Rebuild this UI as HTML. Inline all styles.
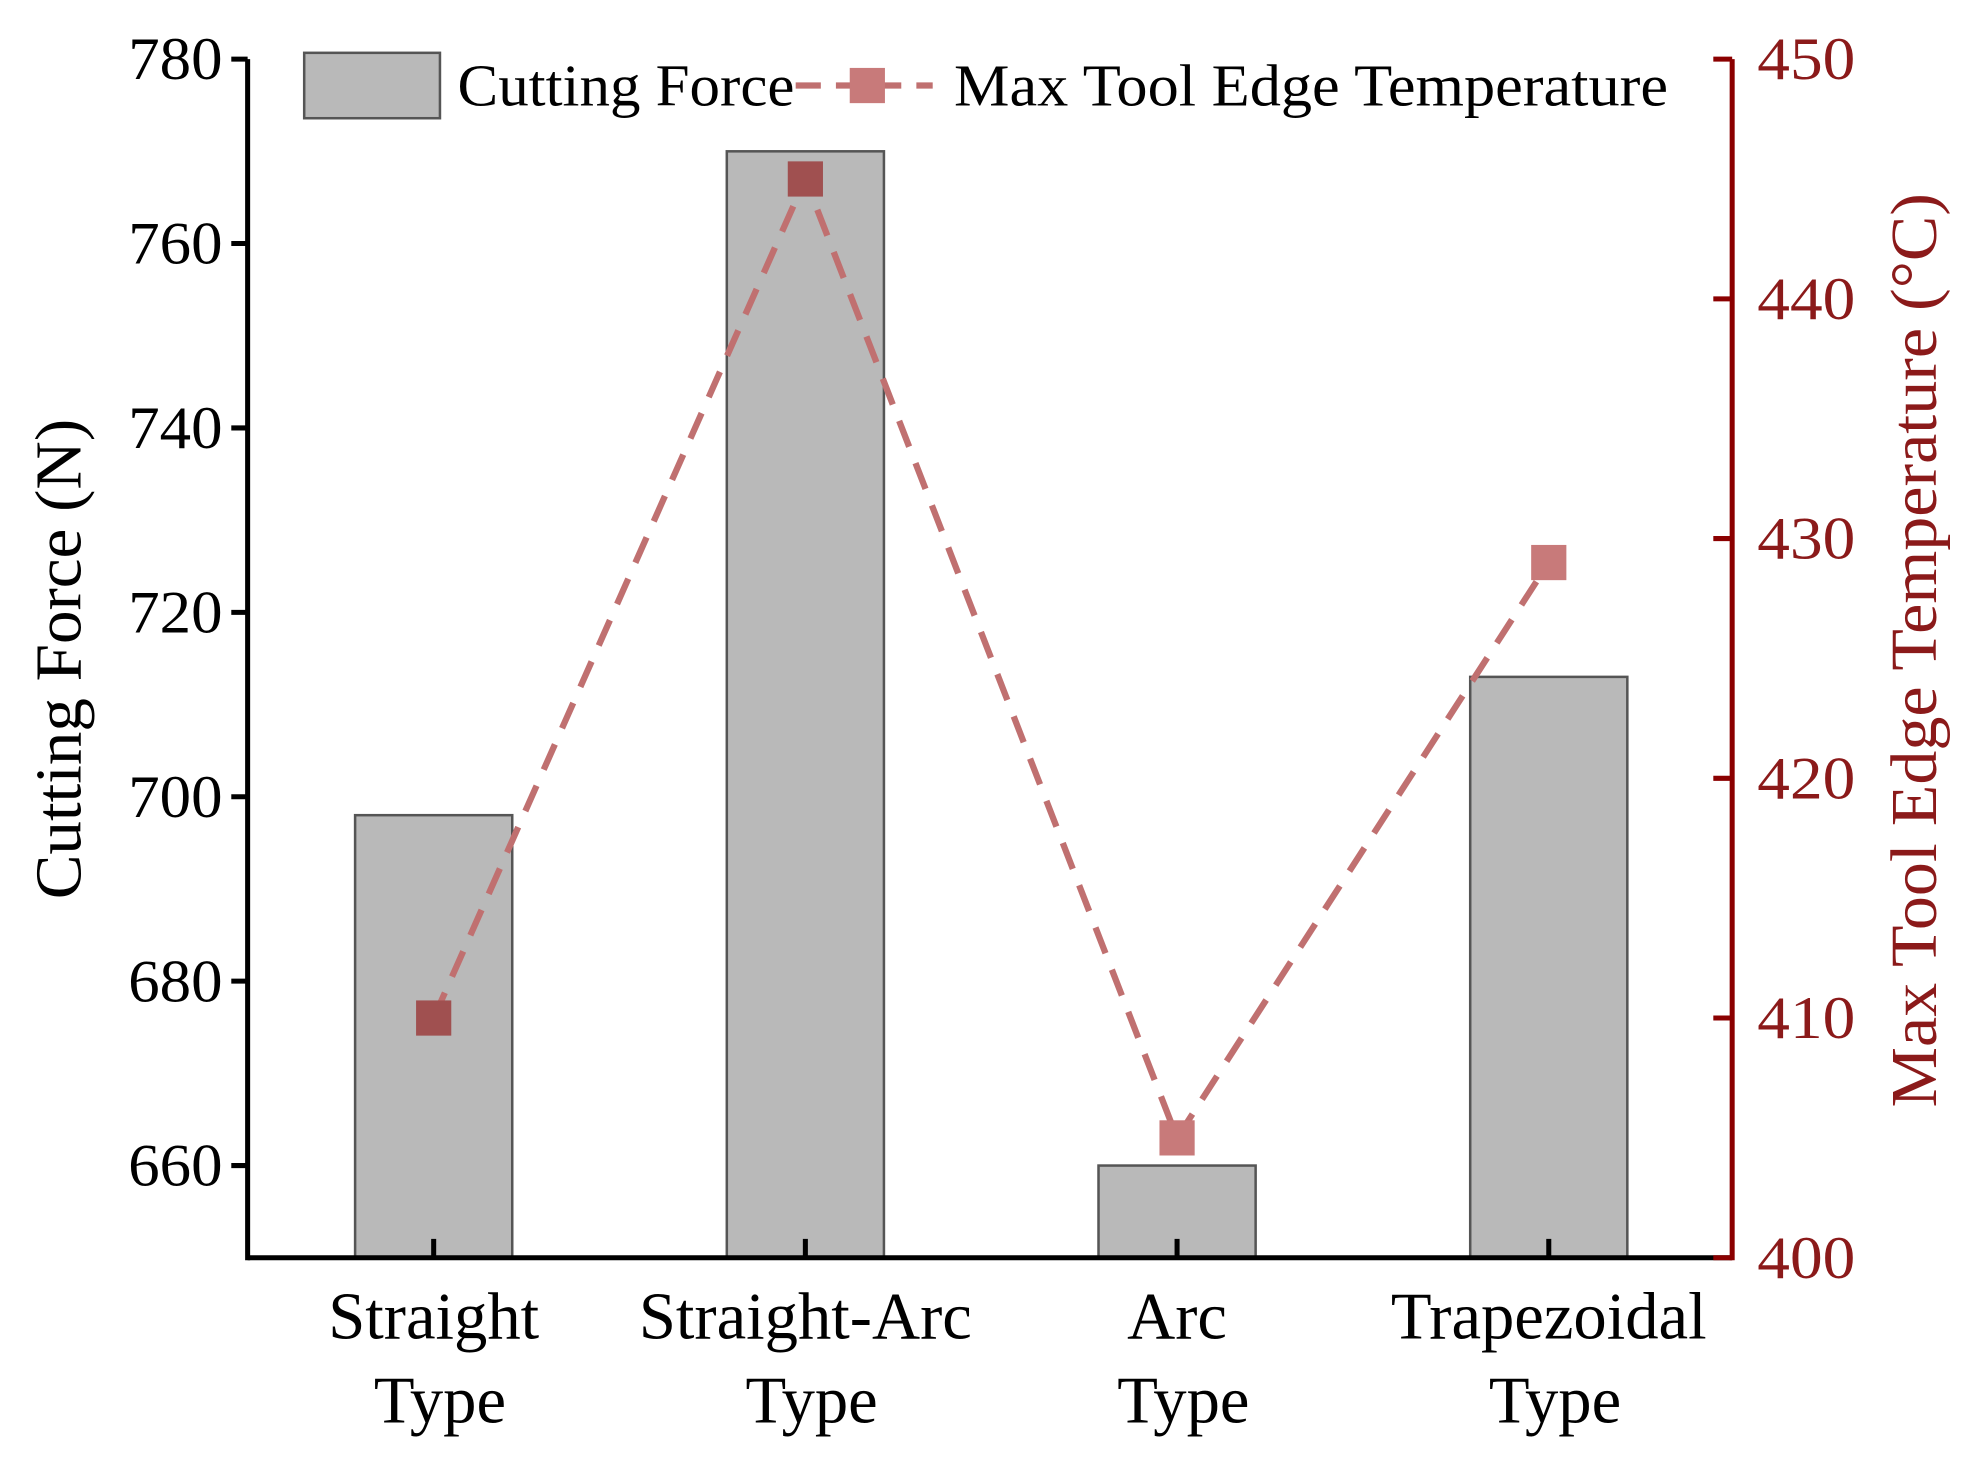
<!DOCTYPE html>
<html><head><meta charset="utf-8"><style>html,body{margin:0;padding:0;background:#fff}svg{display:block}</style></head>
<body>
<svg id="chart" width="1971" height="1459" viewBox="0 0 1568 1160" preserveAspectRatio="none" xmlns="http://www.w3.org/2000/svg" font-family="'Liberation Serif', serif">
<g id="bars"></g>
<g id="line"></g>
<g id="axes"></g>
<g>
  <rect x="242" y="42" width="108" height="52" fill="#b9b9b9" stroke="#555" stroke-width="2"/>
  <text x="364" y="84" font-size="47" textLength="268" lengthAdjust="spacingAndGlyphs">Cutting Force</text>
  <line x1="633" y1="68" x2="742" y2="68" stroke="#c07070" stroke-width="5" stroke-dasharray="20,12"/>
  <rect x="676" y="54" width="28" height="28" fill="#c87a7a"/>
  <text x="759" y="84" font-size="47" textLength="568" lengthAdjust="spacingAndGlyphs">Max Tool Edge Temperature</text>
</g>
<text transform="translate(64,524) rotate(-90)" text-anchor="middle" font-size="52" textLength="382" lengthAdjust="spacingAndGlyphs">Cutting Force (N)</text>
<text transform="translate(1540,517) rotate(-90)" text-anchor="middle" font-size="52" fill="#8b1a1a" textLength="727" lengthAdjust="spacingAndGlyphs">Max Tool Edge Temperature (°C)</text>
</svg>
<script>
const categories = ["Straight|Type", "Straight-Arc|Type", "Arc|Type", "Trapezoidal|Type"];
const cuttingForce = [698, 770, 660, 713];
const maxTemp = [410, 445, 405, 429];
const leftTicks = [660, 680, 700, 720, 740, 760, 780];
const rightTicks = [400, 410, 420, 430, 440, 450];
const markerColors = ["#a05050", "#a05050", "#c87a7a", "#c87a7a"];

const NS = "http://www.w3.org/2000/svg";
const X0 = 197, X1 = 1378, Y0 = 1000, Y1 = 47;
const yL = v => Y0 - (v - 650) / (780 - 650) * (Y0 - Y1);
const yR = v => Y0 - (v - 400) / (450 - 400) * (Y0 - Y1);
const xC = i => 345 + i * 295.7;
const BW = 125;
function mk(tag, attrs, parent) {
  const e = document.createElementNS(NS, tag);
  for (const k in attrs) e.setAttribute(k, attrs[k]);
  parent.appendChild(e);
  return e;
}
const bars = document.getElementById("bars"), line = document.getElementById("line"), axes = document.getElementById("axes");
cuttingForce.forEach((v, i) => {
  const r = mk("rect", {x: xC(i) - BW / 2, y: yL(v), width: BW, height: Y0 - yL(v), fill: "#b9b9b9", stroke: "#555", "stroke-width": 2}, bars);
  
  
});
const pts = maxTemp.map((v, i) => xC(i) + "," + yR(v)).join(" ");
const pl = mk("polyline", {points: pts, fill: "none", stroke: "#c07070", "stroke-width": 5, "stroke-dasharray": "22,14"}, line);


maxTemp.forEach((v, i) => {
  const m = mk("rect", {x: xC(i) - 14, y: yR(v) - 14, width: 28, height: 28, fill: markerColors[i]}, line);
  
  
});
let a = mk("line", {x1: X0, y1: Y1, x2: X0, y2: Y0 + 2, stroke: "#000", "stroke-width": 4}, axes);


a = mk("line", {x1: X0, y1: Y0, x2: X1, y2: Y0, stroke: "#000", "stroke-width": 4}, axes);


a = mk("line", {x1: X1, y1: Y1, x2: X1, y2: Y0 + 2, stroke: "#8b0000", "stroke-width": 4}, axes);


leftTicks.forEach(v => {
  const t = mk("line", {x1: X0 - 13, y1: yL(v), x2: X0, y2: yL(v), stroke: "#000", "stroke-width": 4}, axes);
  
  
  const tx = mk("text", {x: X0 - 20, y: yL(v) + 16, "text-anchor": "end", "font-size": 48, textLength: 75, lengthAdjust: "spacingAndGlyphs"}, axes);
  tx.textContent = v;
  
  
});
rightTicks.forEach(v => {
  const t = mk("line", {x1: X1 - 15, y1: yR(v), x2: X1, y2: yR(v), stroke: "#8b0000", "stroke-width": 4}, axes);
  
  
  const tx = mk("text", {x: X1 + 20, y: yR(v) + 16, "font-size": 48, fill: "#8b1a1a", textLength: 78, lengthAdjust: "spacingAndGlyphs"}, axes);
  tx.textContent = v;
  
  
});
categories.forEach((c, i) => {
  const t = mk("line", {x1: xC(i), y1: Y0 - 15, x2: xC(i), y2: Y0, stroke: "#000", "stroke-width": 4}, axes);
  
  
  c.split("|").forEach((s, j) => {
    const tx = mk("text", {x: xC(i) + (j ? 5 : 0), y: 1064 + j * 67, "text-anchor": "middle", "font-size": 53}, axes);
    tx.textContent = s;
    
    
  });
});
</script>
</body></html>
